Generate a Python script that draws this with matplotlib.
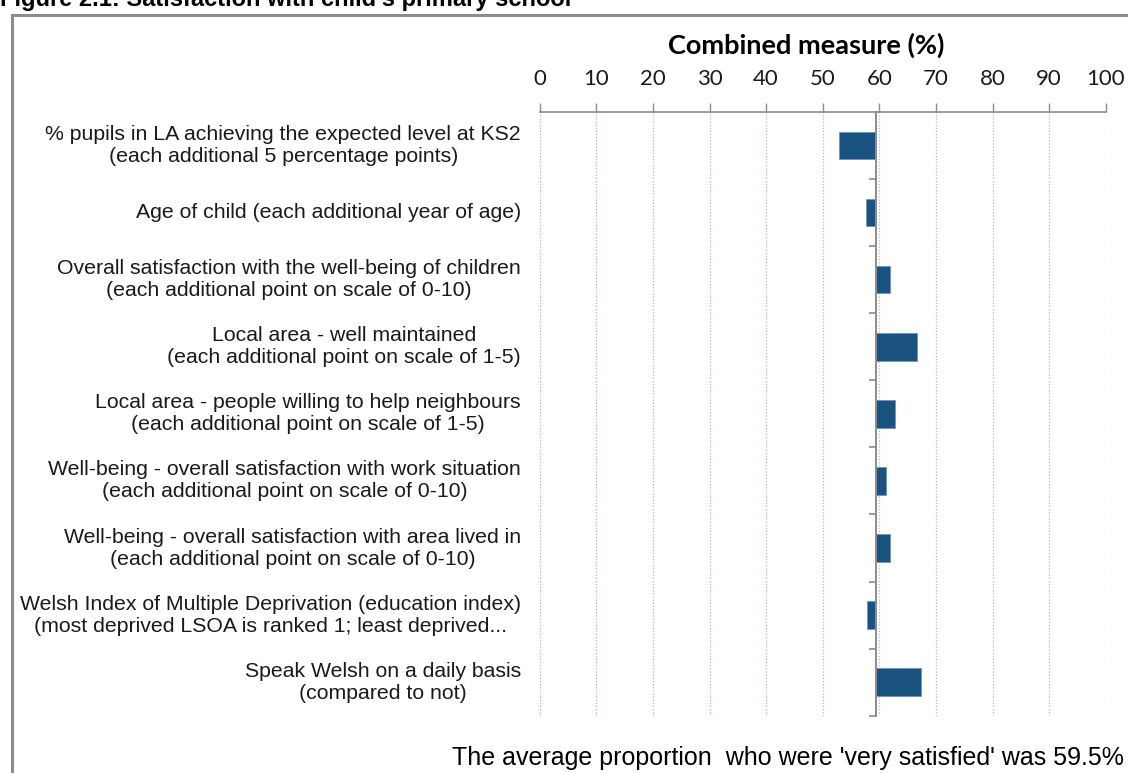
import matplotlib.pyplot as plt
from matplotlib.patches import Rectangle
from matplotlib.ticker import FixedLocator

# data
labels = [
    "% pupils in LA achieving the expected level at KS2\n(each additional 5 percentage points)",
    "Age of child (each additional year of age)",
    "Overall satisfaction with the well-being of children\n(each additional point on scale of 0-10)",
    "Local area - well maintained\n(each additional point on scale of 1-5)",
    "Local area - people willing to help neighbours\n(each additional point on scale of 1-5)",
    "Well-being - overall satisfaction with work situation\n(each additional point on scale of 0-10)",
    "Well-being - overall satisfaction with area lived in\n(each additional point on scale of 0-10)",
    "Welsh Index of Multiple Deprivation (education index)\n(most deprived LSOA is ranked 1; least deprived...",
    "Speak Welsh on a daily basis\n(compared to not)",
]
values = [52.9, 57.6, 61.9, 66.6, 62.8, 61.2, 61.9, 57.8, 67.3]
baseline = 59.5
xticks = [0, 10, 20, 30, 40, 50, 60, 70, 80, 90, 100]

W, H = 1128, 773
fig = plt.figure(figsize=(W / 100, H / 100), dpi=100)


def px(x, y):
    return x / W, 1 - y / H


# outer frame (runs off the right and bottom edges)
fig.patches.append(Rectangle(px(12, 800), (1200 - 12) / W, (800 - 15) / H,
                             transform=fig.transFigure, fill=False,
                             edgecolor='#8c8c8c', linewidth=2.2, zorder=0))

# title is cut off by the top edge, as in the source image
fig.text(0 / W, 1 - 6 / H, "Figure 2.1: Satisfaction with child's primary school",
         fontsize=17, fontweight='bold', family='Liberation Sans',
         ha='left', va='baseline')

left, right, top, bottom = 539.7, 1105.7, 112, 715.7
ax = fig.add_axes([left / W, 1 - bottom / H, (right - left) / W, (bottom - top) / H])

y = list(range(len(values)))
widths = [v - baseline for v in values]
ax.barh(y, widths, left=baseline, height=0.41, color='#1a5280',
        edgecolor='#6d96bf', linewidth=0.6, zorder=3)

ax.set_xlim(0, 100)
ax.set_ylim(len(values) - 0.5, -0.5)

# top value axis
ax.xaxis.set_ticks_position('top')
ax.set_xticks(xticks)
ax.tick_params(axis='x', direction='out', length=6.5, width=1, color='#8c8c8c',
               labelsize=16, pad=10, labelcolor='#1a1a1a')
for t in ax.get_xticklabels():
    t.set_family('Lato')
ax.grid(axis='x', linestyle=(0, (1, 1.5)), color='#9dbde0', linewidth=0.9, zorder=1)

# category axis sits on the 59.5 baseline
for s in ['right', 'bottom']:
    ax.spines[s].set_visible(False)
ax.spines['top'].set_color('#8c8c8c')
ax.spines['top'].set_linewidth(1.2)
ax.spines['left'].set_position(('data', baseline))
ax.spines['left'].set_color('#8c8c8c')
ax.spines['left'].set_linewidth(1.4)
ax.spines['left'].set_zorder(4)
ax.yaxis.set_major_locator(FixedLocator([i + 0.5 for i in range(len(values))]))
ax.set_yticklabels([])
ax.tick_params(axis='y', direction='out', length=5, width=1.2, color='#8c8c8c')

for i, lab in enumerate(labels):
    ax.text(-0.033, i, lab, transform=ax.get_yaxis_transform(), ha='right',
            va='center', multialignment='center', fontsize=15.3,
            family='Liberation Sans', color='#1a1a1a', linespacing=1.2)

fig.text(806 / W, 1 - 45 / H, "Combined measure (%)", fontsize=19.5,
         fontweight='bold', family='Lato', ha='center', va='center')

fig.text(788 / W, 1 - 758 / H, "The average proportion  who were 'very satisfied' was 59.5%",
         fontsize=18, family='Liberation Sans', ha='center', va='center')

fig.savefig('out.png', dpi=100)
